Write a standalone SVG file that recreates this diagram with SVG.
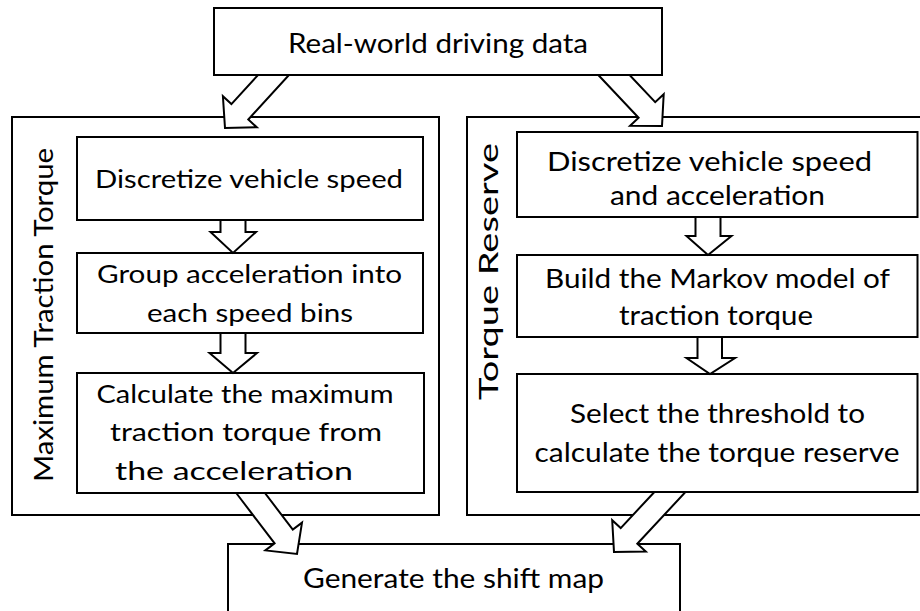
<svg xmlns="http://www.w3.org/2000/svg" width="920" height="611" viewBox="0 0 920 611">
  <style>
    .box { fill: #fff; stroke: #000; stroke-width: 2; }
    .frame { fill: none; stroke: #000; stroke-width: 2; }
    .arrow { fill: #fff; stroke: #000; stroke-width: 2; stroke-linejoin: miter; }
    text { font-family: Lato, "Open Sans", "Liberation Sans", sans-serif; font-weight: 400; fill: #000; text-anchor: middle; }
    .s25 { font-size: 25px; }
    .s27 { font-size: 26.5px; }
    .s26 { font-size: 26px; }
    .side { font-size: 27.5px; }
  </style>
  <rect width="920" height="611" fill="#fff"/>

  <!-- source data -->
  <g id="source">
    <rect class="box" x="214" y="8" width="448" height="67"/>
    <text class="s26" x="438" y="53" textLength="300" lengthAdjust="spacingAndGlyphs">Real-world driving data</text>
  </g>

  <!-- left branch: maximum traction torque -->
  <g id="max-traction-group">
    <rect class="frame" x="12" y="117" width="427" height="398"/>
    <text class="side" transform="translate(53,315) rotate(-90)" textLength="334" lengthAdjust="spacingAndGlyphs">Maximum Traction Torque</text>
  </g>
  <g id="mt-discretize">
    <rect class="box" x="77" y="137" width="346" height="83"/>
    <text class="s25" x="249" y="188" textLength="308" lengthAdjust="spacingAndGlyphs">Discretize vehicle speed</text>
  </g>
  <g id="mt-group">
    <rect class="box" x="77" y="253" width="346" height="80"/>
    <text class="s25" x="249.5" y="283" textLength="305" lengthAdjust="spacingAndGlyphs">Group acceleration into</text>
    <text class="s25" x="250" y="322" textLength="206" lengthAdjust="spacingAndGlyphs">each speed bins</text>
  </g>
  <g id="mt-calculate">
    <rect class="box" x="77" y="373" width="347" height="120"/>
    <text class="s25" x="245" y="403" textLength="297" lengthAdjust="spacingAndGlyphs">Calculate the maximum</text>
    <text class="s25" x="246" y="441" textLength="272" lengthAdjust="spacingAndGlyphs">traction torque from</text>
    <text class="s25" x="234" y="480" textLength="238" lengthAdjust="spacingAndGlyphs">the acceleration</text>
  </g>

  <!-- right branch: torque reserve -->
  <g id="torque-reserve-group">
    <rect class="frame" x="467" y="117" width="463" height="398"/>
    <text class="side" transform="translate(498,271.5) rotate(-90)" textLength="257" lengthAdjust="spacingAndGlyphs">Torque Reserve</text>
  </g>
  <g id="tr-discretize">
    <rect class="box" x="517" y="132" width="400.5" height="85"/>
    <text class="s27" x="709.5" y="171" textLength="325" lengthAdjust="spacingAndGlyphs">Discretize vehicle speed</text>
    <text class="s27" x="717.5" y="205" textLength="215" lengthAdjust="spacingAndGlyphs">and acceleration</text>
  </g>
  <g id="tr-markov">
    <rect class="box" x="517" y="255" width="400.5" height="82"/>
    <text class="s27" x="717.5" y="288" textLength="345" lengthAdjust="spacingAndGlyphs">Build the Markov model of</text>
    <text class="s27" x="716" y="325" textLength="194" lengthAdjust="spacingAndGlyphs">traction torque</text>
  </g>
  <g id="tr-threshold">
    <rect class="box" x="517" y="374" width="400.5" height="118"/>
    <text class="s27" x="717.5" y="423" textLength="295" lengthAdjust="spacingAndGlyphs">Select the threshold to</text>
    <text class="s27" x="717" y="462" textLength="365" lengthAdjust="spacingAndGlyphs">calculate the torque reserve</text>
  </g>

  <!-- result -->
  <g id="shift-map">
    <rect class="box" x="228" y="544" width="452" height="80"/>
    <text class="s26" x="453.5" y="588" textLength="301" lengthAdjust="spacingAndGlyphs">Generate the shift map</text>
  </g>

  <!-- block arrows -->
  <g id="connectors">
    <polygon class="arrow" points="258,75 231.4,104.1 222.9,96.2 225,128 256.8,127.3 248.3,119.5 289,75"/>
    <polygon class="arrow" points="598.3,75 638.6,117.8 630.1,125.8 662,126 663.7,94.2 655.2,102.2 629.6,75"/>
    <polygon class="arrow" points="220.5,220 220.5,232 210.5,232 233,253 256,232 245.5,232 245.5,220"/>
    <polygon class="arrow" points="220.5,333 220.5,353 209.5,353 233,373 257,353 245.5,353 245.5,333"/>
    <polygon class="arrow" points="695.5,217 695.5,236 686.5,236 708,255 731.5,236 720.5,236 720.5,217"/>
    <polygon class="arrow" points="697.5,337 697.5,358 686.5,358 710,374 735,358 722,358 722,337"/>
    <polygon class="arrow" points="236.2,493 274.6,543.4 265.4,550.4 297,554 302,522.6 292.8,529.6 264.9,493"/>
    <polygon class="arrow" points="654.4,492 620.7,528.1 612.2,520.2 614,552 645.8,551.6 637.3,543.7 685.5,492"/>
  </g>
</svg>
